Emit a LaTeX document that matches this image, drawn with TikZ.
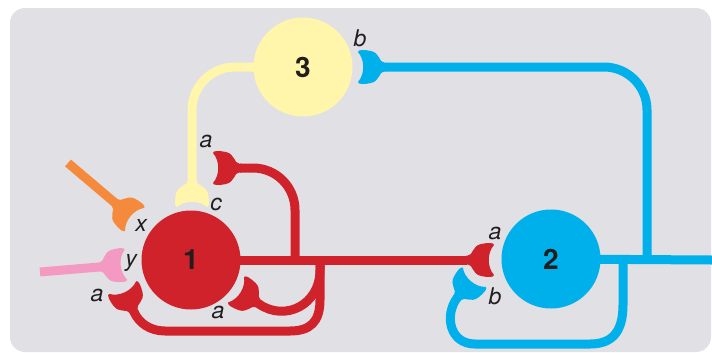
\documentclass[tikz,border=0pt]{standalone}
\usepackage{fontspec}
\setmainfont{TeX Gyre Heros}
\usetikzlibrary{backgrounds}

\definecolor{bgGrey}{HTML}{E1E0E5}
\definecolor{cRed}{HTML}{D0222A}
\definecolor{cBlue}{HTML}{00B0EB}
\definecolor{cYellow}{HTML}{FFF6AC}
\definecolor{cOrange}{HTML}{F58A3D}
\definecolor{cPink}{HTML}{F49AC2}
\definecolor{cText}{HTML}{221E1F}

\tikzset{
  pics/bouton/.style={code={
    \fill (-1,4.5) -- (1,4.5) .. controls (6,4.5) and (5,14) .. (14,16)
      .. controls (21,17.5) and (27,17.5) .. (27,15)
      .. controls (20,7) and (20,-7) .. (27,-15)
      .. controls (27,-17.5) and (21,-17.5) .. (14,-16)
      .. controls (5,-14) and (6,-4.5) .. (1,-4.5) -- (-1,-4.5) -- cycle;
  }}
}

\begin{document}
\begin{tikzpicture}[x=1pt, y=-1pt,
    axon/.style={line width=9pt},
    neuron/.style={circle, minimum size=99pt, inner sep=0pt, text=cText,
      font=\fontsize{28}{30}\selectfont\bfseries},
    lbl/.style={inner sep=0pt, text=cText,
      font=\fontsize{23}{26}\selectfont\itshape}]
  \useasboundingbox (0, 0) rectangle (712, 354);

  % neurons
  \node[neuron, fill=cRed] (n1) at (191, 260) {1};
  \node[neuron, fill=cBlue] (n2) at (551, 259) {2};
  \node[neuron, fill=cYellow] (n3) at (303, 67) {3};

  % terminal necks and branch points
  \coordinate (t2a) at (467, 260);
  \coordinate (t2b) at (457, 298);
  \coordinate (t3b) at (385, 67);
  \coordinate (tca) at (240, 168);
  \coordinate (t1c) at (192, 180);
  \coordinate (t1x) at (114, 202);
  \coordinate (t1y) at (99, 267);
  \coordinate (t1al) at (134, 312);
  \coordinate (t1ab) at (259, 304);
  \coordinate (brA) at (295, 260);
  \coordinate (brB) at (320, 260);
  \coordinate (brC) at (647, 260);
  \coordinate (brD) at (623, 260);
  \coordinate (bEnd) at (712, 260);
  \coordinate (oS) at (68, 163);
  \coordinate (pS) at (40, 272);

  % axons, behind the cell bodies
  \begin{scope}[on background layer]
    \fill[bgGrey, rounded corners=15] (10, 8) rectangle (711, 352);
    \draw[axon, cRed] (n1.center) -- (t2a);
    \draw[axon, cRed, rounded corners=42] (brA) |- (tca);
    \draw[axon, cRed] (brB) -- (320, 270) .. controls (320, 305) and (285, 322) .. (t1ab);
    \draw[axon, cRed] (brB) -- (320, 300) .. controls (320, 322) and (310, 331) .. (290, 331)
      -- (165, 331) .. controls (150, 331) and (139, 323) .. (t1al);
    \draw[axon, cYellow, rounded corners=43] (n3.center) -| (t1c);
    \draw[axon, cBlue] (n2.center) -- (bEnd);
    \draw[axon, cBlue, rounded corners=43] (brC) |- (t3b);
    \draw[axon, cBlue] (brD) -- (623, 305) .. controls (623, 332) and (612, 344) .. (590, 344)
      -- (475, 344) .. controls (450, 344) and (444, 316) .. (t2b);
    \draw[axon, cOrange] (oS) -- (t1x);
    \draw[axon, cPink] (pS) -- (t1y);
  \end{scope}

  % synaptic terminals
  \pic[color=cRed] at (t2a) {bouton};
  \pic[color=cBlue, rotate=50] at (t2b) {bouton};
  \pic[color=cBlue, rotate=180] at (t3b) {bouton};
  \pic[color=cRed, rotate=180] at (tca) {bouton};
  \pic[color=cYellow, rotate=-90] at (t1c) {bouton};
  \pic[color=cOrange, rotate=-40] at (t1x) {bouton};
  \pic[color=cPink, rotate=5] at (t1y) {bouton};
  \pic[color=cRed, rotate=115] at (t1al) {bouton};
  \pic[color=cRed, rotate=148] at (t1ab) {bouton};

  % labels
  \node[lbl] (lA) at (206, 141) {a};
  \node[lbl] (lC) at (216, 204) {c};
  \node[lbl] (lX) at (141, 225) {x};
  \node[lbl] (lY) at (131, 263) {y};
  \node[lbl] (lAl) at (97, 295) {a};
  \node[lbl] (lAb) at (218, 312) {a};
  \node[lbl] (l2a) at (495, 233) {a};
  \node[lbl] (l2b) at (495, 296) {b};
  \node[lbl] (l3b) at (360, 38) {b};
\end{tikzpicture}
\end{document}
